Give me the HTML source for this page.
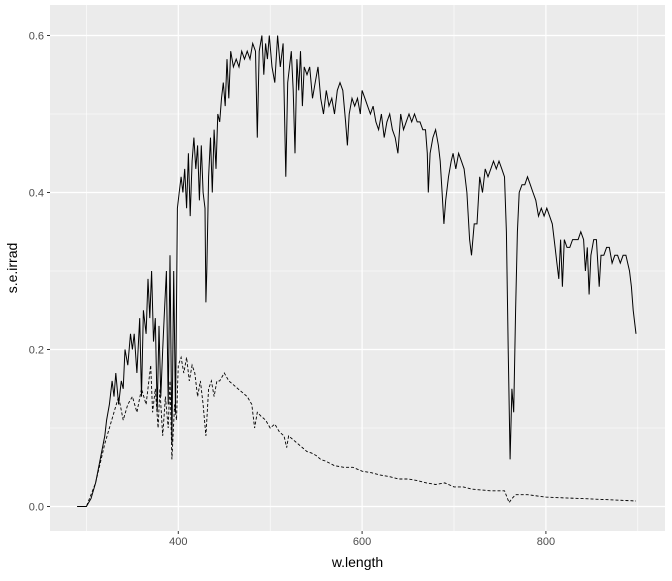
<!DOCTYPE html>
<html><head><meta charset="utf-8"><style>
body{margin:0;background:#fff;font-family:"Liberation Sans",sans-serif}
</style></head><body>
<svg id="chart" width="672" height="576" xmlns="http://www.w3.org/2000/svg"></svg>
<script>
const solidW=[290,300,305,310,315,320,322,325,328,330,332,335,338,340,342,345,348,350,352,355,358,360,362,365,367,369,371,373,375,377,379,381,383,385,387,389,391,393,395,397,399,401,403,405,407,409,411,413,415,417,419,421,423,425,427,429,430,431,433,435,437,439,441,443,445,447,449,451,453,455,457,460,463,466,469,472,475,478,481,484,486,488,491,493,495,497,499,502,505,508,511,514,517,519,521,523,525,527,529,531,533,535,537,540,543,546,549,552,555,558,561,564,567,570,573,576,579,582,584,586,589,592,595,598,600,603,606,609,612,615,618,621,624,627,630,633,636,639,642,645,648,651,654,657,660,663,666,669,671,672,674,677,680,683,685,687,689,691,694,697,699,702,705,708,711,714,717,719,722,725,728,731,734,737,740,743,746,749,752,755,757,759,761,763,765,767,769,771,774,777,780,783,786,789,792,795,798,801,804,807,810,812,814,816,818,820,823,826,829,832,835,838,841,843,845,847,849,852,855,858,860,863,866,869,872,875,878,881,884,887,889,891,893,895,898];
const solidV=[0,0,0.01,0.03,0.06,0.09,0.11,0.13,0.16,0.14,0.17,0.13,0.16,0.15,0.20,0.18,0.22,0.20,0.22,0.17,0.24,0.14,0.25,0.22,0.29,0.24,0.30,0.21,0.24,0.12,0.23,0.14,0.20,0.25,0.30,0.13,0.32,0.08,0.30,0.12,0.38,0.40,0.42,0.40,0.43,0.38,0.45,0.37,0.44,0.47,0.43,0.46,0.39,0.46,0.40,0.38,0.26,0.30,0.42,0.47,0.40,0.48,0.43,0.50,0.49,0.52,0.54,0.51,0.57,0.52,0.58,0.56,0.57,0.56,0.58,0.57,0.58,0.57,0.59,0.58,0.47,0.58,0.60,0.55,0.59,0.57,0.60,0.56,0.54,0.60,0.56,0.59,0.42,0.54,0.56,0.58,0.53,0.45,0.57,0.53,0.58,0.51,0.56,0.55,0.56,0.52,0.54,0.56,0.52,0.50,0.53,0.51,0.52,0.50,0.53,0.54,0.53,0.49,0.46,0.50,0.52,0.51,0.52,0.50,0.53,0.52,0.51,0.50,0.51,0.49,0.48,0.50,0.47,0.49,0.50,0.48,0.47,0.45,0.50,0.48,0.49,0.50,0.49,0.50,0.49,0.49,0.48,0.48,0.45,0.40,0.45,0.47,0.48,0.46,0.44,0.40,0.36,0.39,0.42,0.44,0.45,0.43,0.45,0.44,0.43,0.40,0.34,0.32,0.36,0.36,0.42,0.40,0.43,0.42,0.43,0.44,0.43,0.44,0.43,0.42,0.35,0.20,0.06,0.15,0.12,0.25,0.35,0.40,0.41,0.41,0.42,0.41,0.40,0.39,0.37,0.38,0.37,0.38,0.37,0.36,0.33,0.31,0.29,0.34,0.28,0.34,0.33,0.33,0.34,0.34,0.34,0.35,0.34,0.30,0.33,0.27,0.32,0.34,0.34,0.28,0.32,0.32,0.33,0.33,0.31,0.32,0.32,0.31,0.32,0.32,0.31,0.30,0.28,0.25,0.22];
const dashW=[290,300,310,320,325,330,335,340,345,350,355,360,365,370,372,375,378,380,383,386,389,391,393,396,398,400,403,406,409,412,415,418,421,424,427,430,433,436,439,442,445,450,455,460,465,470,475,480,483,486,490,495,500,505,510,515,518,520,525,530,535,540,545,550,555,560,565,570,580,590,600,610,620,630,640,650,660,670,680,690,700,710,720,740,755,760,763,767,780,800,820,840,860,880,898];
const dashV=[0,0,0.03,0.08,0.10,0.12,0.14,0.11,0.13,0.14,0.12,0.15,0.13,0.18,0.12,0.15,0.10,0.15,0.09,0.14,0.10,0.16,0.06,0.13,0.11,0.18,0.19,0.17,0.19,0.16,0.18,0.17,0.14,0.16,0.13,0.09,0.15,0.16,0.14,0.16,0.16,0.17,0.16,0.155,0.15,0.145,0.14,0.13,0.10,0.12,0.115,0.11,0.10,0.105,0.095,0.09,0.075,0.09,0.085,0.08,0.075,0.07,0.068,0.065,0.06,0.058,0.055,0.052,0.05,0.05,0.045,0.043,0.04,0.038,0.035,0.035,0.033,0.03,0.028,0.03,0.025,0.025,0.022,0.02,0.02,0.005,0.01,0.015,0.015,0.012,0.011,0.01,0.009,0.008,0.007];
const xTicks=[400,600,800];
const xMinor=[300,500,700,900];
const yTicks=[0,0.2,0.4,0.6];
const yMinor=[0.1,0.3,0.5];

const NS="http://www.w3.org/2000/svg";
const svg=document.getElementById('chart');
const L=50,R=665,T=5,B=531;
const xs=w=>178.3+(w-400)*0.919;
const ys=v=>506.5-v*785;
function mk(tag,attrs,parent){const e=document.createElementNS(NS,tag);for(const k in attrs)e.setAttribute(k,attrs[k]);(parent||svg).appendChild(e);return e;}
let p=mk('rect',{x:L,y:T,width:R-L,height:B-T,fill:'#ebebeb'});


xMinor.forEach(w=>{const l=mk('line',{x1:xs(w),x2:xs(w),y1:T,y2:B,stroke:'#fff','stroke-width':0.6});

});
yMinor.forEach(v=>{const l=mk('line',{x1:L,x2:R,y1:ys(v),y2:ys(v),stroke:'#fff','stroke-width':0.6});

});
xTicks.forEach(w=>{const l=mk('line',{x1:xs(w),x2:xs(w),y1:T,y2:B,stroke:'#fff','stroke-width':1.2});


const t=mk('line',{x1:xs(w),x2:xs(w),y1:B,y2:B+3,stroke:'#333','stroke-width':1});


const tx=mk('text',{x:xs(w),y:B+14,'text-anchor':'middle','font-size':11,fill:'#4d4d4d'});tx.textContent=w;

});
yTicks.forEach(v=>{const l=mk('line',{x1:L,x2:R,y1:ys(v),y2:ys(v),stroke:'#fff','stroke-width':1.2});


const t=mk('line',{x1:L-3,x2:L,y1:ys(v),y2:ys(v),stroke:'#333','stroke-width':1});


const tx=mk('text',{x:L-6,y:ys(v)+4,'text-anchor':'end','font-size':11,fill:'#4d4d4d'});tx.textContent=v.toFixed(1);

});
function path(W,V){return W.map((w,i)=>(i?'L':'M')+xs(w).toFixed(1)+','+ys(V[i]).toFixed(1)).join('');}
const s=mk('path',{d:path(solidW,solidV),fill:'none',stroke:'#000','stroke-width':1});


const d=mk('path',{d:path(dashW,dashV),fill:'none',stroke:'#000','stroke-width':0.9,'stroke-dasharray':'3,2'});


const xt=mk('text',{x:(L+R)/2,y:567,'text-anchor':'middle','font-size':14,fill:'#000'});xt.textContent='w.length';


const yt=mk('text',{x:0,y:0,'text-anchor':'middle','font-size':14,fill:'#000',transform:'translate(17,'+((T+B)/2)+') rotate(-90)'});yt.textContent='s.e.irrad';


</script>
</body></html>
